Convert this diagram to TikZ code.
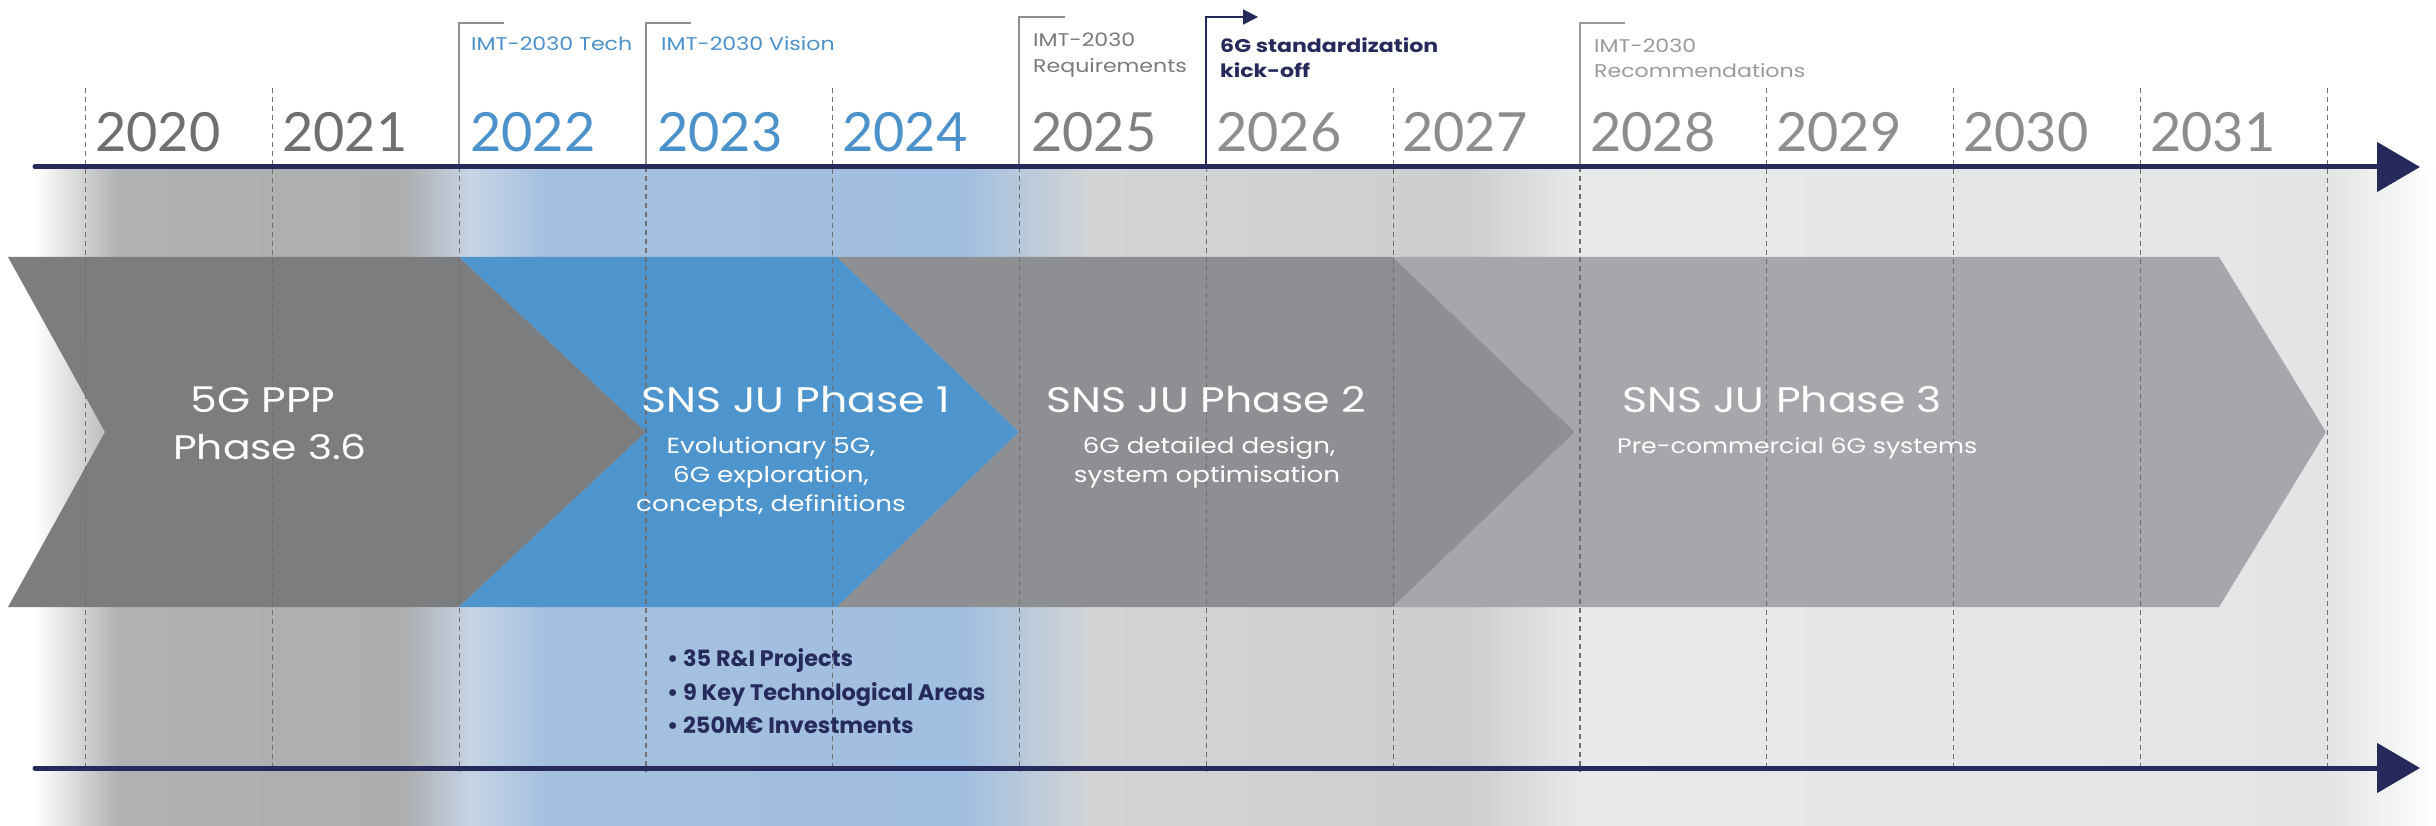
\documentclass[tikz,border=0pt]{standalone}
\usepackage{fontspec}
\setmainfont{Poppins}[FakeStretch=1.2]
\newfontfamily\plainfont{Poppins}
\newfontfamily\yearfont{Lato}
\usetikzlibrary{arrows.meta}
\definecolor{navy}{HTML}{262A5B}
\definecolor{yrdark}{HTML}{6F6F71}
\definecolor{yrblue}{HTML}{4B91CA}
\definecolor{yrmid}{HTML}{808080}
\definecolor{yrlight}{HTML}{8D8D8D}
\definecolor{lblgray}{HTML}{7A7A7A}
\definecolor{lbllight}{HTML}{9A9A9A}
\definecolor{chevA}{HTML}{7C7D7F}
\definecolor{chevB}{HTML}{4F95CD}
\definecolor{chevC}{HTML}{8E8F92}
\definecolor{chevD}{HTML}{A5A7AA}
\definecolor{gridc}{HTML}{6E6E6E}
\definecolor{brk}{HTML}{8E8E8E}
\definecolor{bgA}{HTML}{B0B1B3}
\definecolor{bgA2}{HTML}{ADAEB0}
\definecolor{bgB}{HTML}{C6D4E5}
\definecolor{bgC}{HTML}{A4C0DF}
\definecolor{bgC2}{HTML}{A1BFE0}
\definecolor{bgD}{HTML}{D3D4D6}
\definecolor{bgD2}{HTML}{CDCECF}
\definecolor{bgE}{HTML}{E8E9EA}
\definecolor{bgE2}{HTML}{E3E4E5}
\tikzset{
  year/.style={font=\yearfont\fontsize{54}{54}\selectfont, anchor=base west, inner sep=0pt},
  lbl/.style={font=\fontsize{18.4}{18.4}\selectfont, anchor=base west, inner sep=0pt},
  ttl/.style={font=\fontsize{35.5}{35.5}\selectfont, text=white, anchor=base, inner sep=0pt},
  sub/.style={font=\fontsize{21.8}{21.8}\selectfont, text=white, anchor=base, inner sep=0pt},
  bul/.style={font=\plainfont\bfseries\fontsize{22.4}{22.4}\selectfont, text=navy, anchor=base west, inner sep=0pt},
  grid/.style={draw=gridc, line width=1.2pt, dash pattern=on 5pt off 4pt},
  bracket/.style={draw=brk, line width=1.8pt},
  axis/.style={draw=navy, line width=5pt, line cap=round, -{Triangle[length=43pt,width=49pt]}},
}
\begin{document}
\begin{tikzpicture}[x=1pt,y=-1pt]
\useasboundingbox (0,0) rectangle (2436,826);
\fill[white] (0,0) rectangle (2436,826);
% background bands
\shade[left color=white, right color=bgA] (35,170) rectangle (118.5,826);
\shade[left color=bgA, right color=bgA2] (118,170) rectangle (405.5,826);
\shade[left color=bgA2, right color=bgB] (405,170) rectangle (470.5,826);
\shade[left color=bgB, right color=bgC] (470,170) rectangle (545.5,826);
\shade[left color=bgC, right color=bgC2] (545,170) rectangle (965.5,826);
\shade[left color=bgC2, right color=bgD] (965,170) rectangle (1090.5,826);
\shade[left color=bgD, right color=bgD2] (1090,170) rectangle (1470.5,826);
\shade[left color=bgD2, right color=bgE] (1470,170) rectangle (1580.5,826);
\shade[left color=bgE, right color=bgE2] (1580,170) rectangle (2330.5,826);
\shade[left color=bgE2, right color=white] (2330,170) rectangle (2436,826);
% chevrons
\fill[chevA] (8,257) -- (459,257) -- (646,432) -- (459,607) -- (8,607) -- (105,432) -- cycle;
\fill[chevB] (459,257) -- (837,257) -- (1019,432) -- (837,607) -- (459,607) -- (646,432) -- cycle;
\fill[chevC] (837,257) -- (1393,257) -- (1575,432) -- (1393,607) -- (837,607) -- (1019,432) -- cycle;
\fill[chevD] (1393,257) -- (2219,257) -- (2326,432) -- (2219,607) -- (1393,607) -- (1575,432) -- cycle;
% grid lines
\foreach \k in {0,...,12}{
  \coordinate (g\k) at ({85.6+186.8*\k},772);
}
\foreach \k in {0,1,4,7,9,10,11,12}{
  \draw[grid] ({85.6+186.8*\k},88) -- (g\k);
}
\foreach \k in {2,3,5,6,8}{
  \draw[grid] ({85.6+186.8*\k},167) -- (g\k);
}
% brackets
\coordinate (b22) at (459,167); \coordinate (t22) at (504,23);
\coordinate (b23) at (646,167); \coordinate (t23) at (691,23);
\coordinate (b25) at (1019,167); \coordinate (t25) at (1065,17);
\coordinate (b26) at (1206,167); \coordinate (t26) at (1258,17);
\coordinate (b28) at (1580,167); \coordinate (t28) at (1625,23);
\draw[bracket] (b22) |- (t22);
\draw[bracket] (b23) |- (t23);
\draw[bracket] (b25) |- (t25);
\draw[bracket, draw=lbllight] (b28) |- (t28);
\draw[draw=navy, line width=1.8pt, -{Triangle[length=15pt,width=15pt]}] (b26) |- (t26);
% axes
\coordinate (ta0) at (35,167); \coordinate (ta1) at (2420,167);
\coordinate (ba0) at (35,768); \coordinate (ba1) at (2420,768);
\draw[axis] (ta0) -- (ta1);
\draw[axis] (ba0) -- (ba1);
% years
\node[year, text=yrdark] (y2020) at (95,152) {2020};
\node[year, text=yrdark] (y2021) at (282,152) {2021};
\node[year, text=yrblue] (y2022) at (470,152) {2022};
\node[year, text=yrblue] (y2023) at (657,152) {2023};
\node[year, text=yrblue] (y2024) at (842,152) {2024};
\node[year, text=yrmid] (y2025) at (1031,152) {2025};
\node[year, text=yrlight] (y2026) at (1216,152) {2026};
\node[year, text=yrlight] (y2027) at (1402,152) {2027};
\node[year, text=yrlight] (y2028) at (1590,152) {2028};
\node[year, text=yrlight] (y2029) at (1776,152) {2029};
\node[year, text=yrlight] (y2030) at (1963,152) {2030};
\node[year, text=yrlight] (y2031) at (2150,152) {2031};
% milestone labels
\node[lbl, text=yrblue] (l22) at (471,51) {IMT-2030 Tech};
\node[lbl, text=yrblue] (l23) at (661,51) {IMT-2030 Vision};
\node[lbl, text=lblgray] (l25a) at (1033,47) {IMT-2030};
\node[lbl, text=lblgray] (l25b) at (1033,73) {Requirements};
\node[lbl, text=navy, font=\bfseries\fontsize{18.4}{18.4}\selectfont] (l26a) at (1220,53) {6G standardization};
\node[lbl, text=navy, font=\bfseries\fontsize{18.4}{18.4}\selectfont] (l26b) at (1220,78) {kick-off};
\node[lbl, text=lbllight] (l28a) at (1594,53) {IMT-2030};
\node[lbl, text=lbllight] (l28b) at (1594,78) {Recommendations};
% chevron texts
\node[ttl] (p0a) at (263,412) {5G PPP};
\node[ttl, font=\fontsize{34}{34}\selectfont] (p0b) at (270,459) {Phase 3.6};
\node[ttl] (p1) at (796,412) {SNS JU Phase 1};
\node[sub] (p1a) at (771,453) {Evolutionary 5G,};
\node[sub] (p1b) at (771,482) {6G exploration,};
\node[sub] (p1c) at (771,511) {concepts, definitions};
\node[ttl] (p2) at (1206,412) {SNS JU Phase 2};
\node[sub] (p2a) at (1209,453) {6G detailed design,};
\node[sub] (p2b) at (1207,482) {system optimisation};
\node[ttl] (p3) at (1782,412) {SNS JU Phase 3};
\node[sub, font=\fontsize{21}{21}\selectfont, anchor=base west] (p3a) at (1617,453) {Pre-commercial 6G systems};
% bullets
\node[bul] (k1) at (667,666) {• 35 R\&I Projects};
\node[bul] (k2) at (667,700) {• 9 Key Technological Areas};
\node[bul] (k3) at (667,733) {• 250M€ Investments};
\end{tikzpicture}
\end{document}
